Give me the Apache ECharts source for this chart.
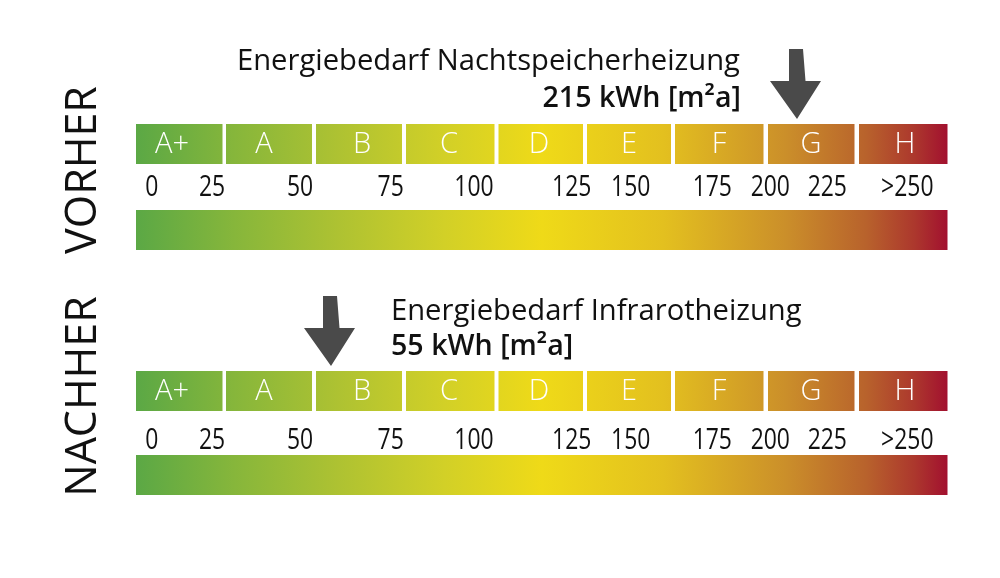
<!DOCTYPE html>
<html><head><meta charset="utf-8">
<style>html,body{margin:0;padding:0;background:#fff}#c{width:1000px;height:578px}</style>
<script src="https://cdn.jsdelivr.net/npm/echarts@6/dist/echarts.min.js"></script>
</head><body><div id="c"></div>
<script>
// Position along the (non-linear) rating scale, in scale units
const classNames = ['A+','A','B','C','D','E','F','G','H'];
const classStart = [0,90,180,270,362.5,451,539,632,723];
const classEnd   = [86.5,176,266,358.5,447,535,627.5,718.5,811.5];
const classLabelAt = [36,128,226,313,403,493,583,675,769];
const tickText = ['0','25','50','75','100','125','150','175','200','225','>250'];
const tickAt   = [15.7,76,164,254.7,338,435.7,494.7,576.3,634.3,691.3,771.3];
const scaleMax = 811.5;
const arrowBefore = [661];   // 215 kWh
const arrowAfter  = [195];   // 55 kWh

const stops = [
 {offset:0,color:'#5ba845'},{offset:.12,color:'#86b63b'},{offset:.25,color:'#aec232'},
 {offset:.38,color:'#d2d027'},{offset:.5,color:'#efda18'},{offset:.65,color:'#e3c01f'},
 {offset:.8,color:'#cb8f2a'},{offset:.9,color:'#b8622c'},{offset:.96,color:'#ac372d'},{offset:1,color:'#a2102f'}];
const L = 136, R = 947.5;
const grad = {type:'linear',x:L,y:0,x2:R,y2:0,global:true,colorStops:stops};
const FS = 'Open Sans';

const rows = [
 {segTop:124,barTop:210,tickY:187.5,arrow:arrowBefore},
 {segTop:371,barTop:455,tickY:440.5,arrow:arrowAfter}
];
const grid=[],xAxis=[],yAxis=[],series=[];
rows.forEach((r)=>{
  const a=grid.length;
  grid.push({left:L,width:R-L,top:r.segTop,height:40},{left:L,width:R-L,top:r.barTop,height:40});
  xAxis.push({gridIndex:a,type:'value',min:0,max:scaleMax,show:false});
  xAxis.push({gridIndex:a+1,type:'value',min:0,max:scaleMax,show:false});
  yAxis.push({gridIndex:a,type:'category',data:['Klassen'],show:false},{gridIndex:a+1,type:'category',data:['Verlauf'],show:false});
  series.push({type:'custom',xAxisIndex:a,yAxisIndex:a,clip:false,silent:true,
    data:classNames.map((n,i)=>[classStart[i],classEnd[i],classLabelAt[i],n]),
    renderItem:(p,api)=>{
      const x0=api.coord([api.value(0),0])[0],x1=api.coord([api.value(1),0])[0],xl=api.coord([api.value(2),0])[0];
      const cs=p.coordSys;
      return {type:'group',children:[
        {type:'rect',shape:{x:x0,y:cs.y,width:x1-x0,height:cs.height},style:{fill:grad}},
        {type:'text',style:{x:xl,y:cs.y+cs.height/2+1,text:classNames[p.dataIndex],fill:'#fff',font:'300 29px "'+FS+'"',align:'center',verticalAlign:'middle'}}
      ]};
    }});
  // condensed scale numbers under the class bar
  series.push({type:'custom',xAxisIndex:a,yAxisIndex:a,clip:false,silent:true,
    data:tickAt.map((v,i)=>[v,tickText[i]]),
    renderItem:(p,api)=>{
      const x=api.coord([api.value(0),0])[0];
      return {type:'text',x:x,y:r.tickY,scaleX:.79,style:{x:0,y:0,text:tickText[p.dataIndex],fill:'#111',font:'400 29px "'+FS+'"',align:'center',verticalAlign:'middle'}};
    }});
  series.push({type:'custom',xAxisIndex:a,yAxisIndex:a,clip:false,silent:true,data:r.arrow.map(v=>[v]),
    renderItem:(p,api)=>{
      const x=api.coord([api.value(0),0])[0],y=p.coordSys.y-5;
      return {type:'polygon',shape:{points:[[x,y],[x+24,y-38],[x+8.5,y-38],[x+6,y-70],[x-8,y-70],[x-8,y-38],[x-27,y-38]]},style:{fill:'#4a4a4a'}};
    }});
  series.push({type:'bar',xAxisIndex:a+1,yAxisIndex:a+1,barWidth:'100%',silent:true,data:[scaleMax],itemStyle:{color:grad}});
});

const t=(text,o)=>Object.assign({text,textStyle:{fontFamily:FS,fontSize:o.bold?28.6:29.2,fontWeight:o.bold?600:400,color:'#111'}},o.pos);
const chart=echarts.init(document.getElementById('c'),null,{renderer:'canvas'});
chart.setOption({animation:false,backgroundColor:'#fff',
 title:[
  t('Energiebedarf Nachtspeicherheizung',{pos:{left:232,top:42.5}}),
  t('215 kWh [m²a]',{bold:true,pos:{right:254,top:79}}),
  t('Energiebedarf Infrarotheizung',{pos:{left:386,top:292.5}}),
  t('55 kWh [m²a]',{bold:true,pos:{left:386,top:327}})
 ],
 grid,xAxis,yAxis,series,
 graphic:[
  {type:'text',rotation:Math.PI/2,x:84,y:170,style:{text:'VORHER',font:'400 43px "'+FS+'"',fill:'#111',align:'center',verticalAlign:'middle'}},
  {type:'text',rotation:Math.PI/2,x:84,y:396.5,style:{text:'NACHHER',font:'400 43px "'+FS+'"',fill:'#111',align:'center',verticalAlign:'middle'}}
 ]});
</script></body></html>
